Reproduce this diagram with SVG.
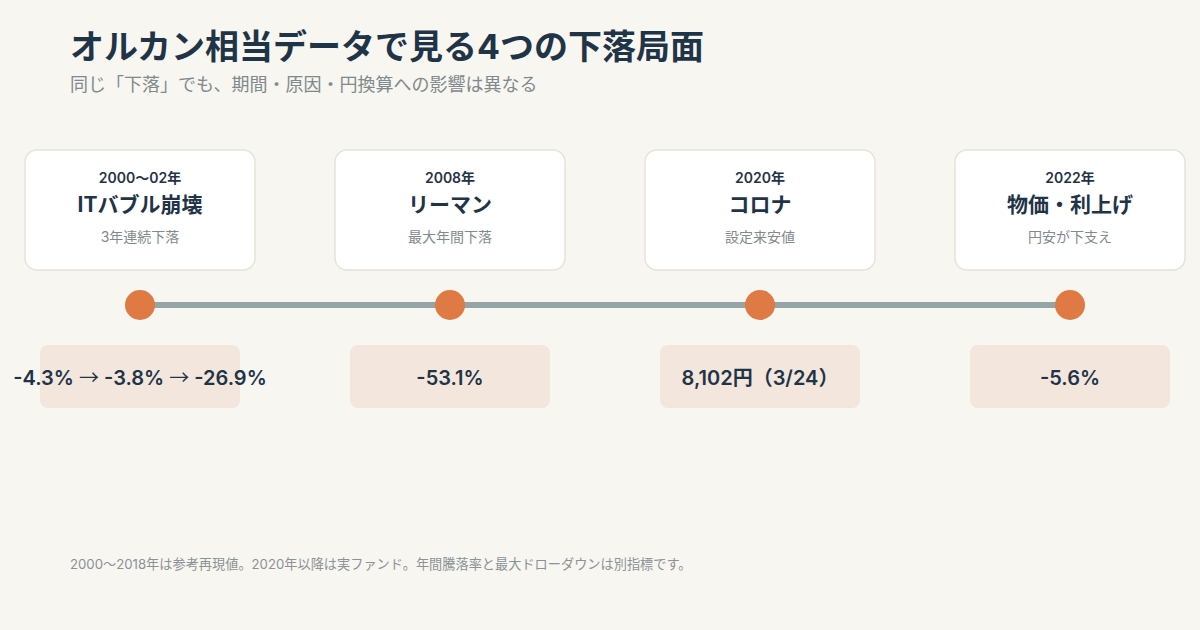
<svg xmlns="http://www.w3.org/2000/svg" width="1200" height="630" viewBox="0 0 1200 630">
<style>
text{font-family:Inter,"Noto Sans CJK JP","Noto Sans",sans-serif}
.title{font-size:34px;font-weight:700;fill:#1f3447}
.subtitle{font-size:18px;fill:#7f8a8c}
.card{fill:#ffffff;stroke:#e6e3d8;stroke-width:1.5}
.yr{font-size:14px;font-weight:600;fill:#1f3447;text-anchor:middle}
.nm{font-size:21px;font-weight:700;fill:#1f3447;text-anchor:middle}
.ds{font-size:14px;fill:#7f8a8c;text-anchor:middle}
.dot{fill:#df7a45}
.vbox{fill:#f2e6dd}
.val{font-size:20px;font-weight:600;fill:#1f3447;text-anchor:middle}
.arr{font-family:"Noto Sans CJK JP",sans-serif;font-weight:400}
.foot{font-size:13.2px;fill:#8a9294}
</style>
<rect width="1200" height="630" fill="#f7f6f1"/>
<text class="title" x="70" y="59">オルカン相当データで見る4つの下落局面</text>
<text class="subtitle" x="70" y="91">同じ「下落」でも、期間・原因・円換算への影響は異なる</text>
<g id="connectors">
<line x1="140" y1="305" x2="1070" y2="305" stroke="#95a5a6" stroke-width="6"/>
</g>
<g id="node-2000">
<rect class="card" x="25" y="150" width="230" height="120" rx="12"/>
<text class="yr" x="140" y="183">2000〜02年</text>
<text class="nm" x="140" y="212">ITバブル崩壊</text>
<text class="ds" x="140" y="242">3年連続下落</text>
<circle class="dot" cx="140" cy="305" r="15"/>
<rect class="vbox" x="40" y="345" width="200" height="63" rx="8"/>
<text class="val" x="140" y="385">-4.3% <tspan class="arr">→</tspan> -3.8% <tspan class="arr">→</tspan> -26.9%</text>
</g>
<g id="node-2008">
<rect class="card" x="335" y="150" width="230" height="120" rx="12"/>
<text class="yr" x="450" y="183">2008年</text>
<text class="nm" x="450" y="212">リーマン</text>
<text class="ds" x="450" y="242">最大年間下落</text>
<circle class="dot" cx="450" cy="305" r="15"/>
<rect class="vbox" x="350" y="345" width="200" height="63" rx="8"/>
<text class="val" x="450" y="385">-53.1%</text>
</g>
<g id="node-2020">
<rect class="card" x="645" y="150" width="230" height="120" rx="12"/>
<text class="yr" x="760" y="183">2020年</text>
<text class="nm" x="760" y="212">コロナ</text>
<text class="ds" x="760" y="242">設定来安値</text>
<circle class="dot" cx="760" cy="305" r="15"/>
<rect class="vbox" x="660" y="345" width="200" height="63" rx="8"/>
<text class="val" x="760" y="385">8,102円（3/24）</text>
</g>
<g id="node-2022">
<rect class="card" x="955" y="150" width="230" height="120" rx="12"/>
<text class="yr" x="1070" y="183">2022年</text>
<text class="nm" x="1070" y="212">物価・利上げ</text>
<text class="ds" x="1070" y="242">円安が下支え</text>
<circle class="dot" cx="1070" cy="305" r="15"/>
<rect class="vbox" x="970" y="345" width="200" height="63" rx="8"/>
<text class="val" x="1070" y="385">-5.6%</text>
</g>
<text class="foot" x="70" y="569">2000〜2018年は参考再現値。2020年以降は実ファンド。年間騰落率と最大ドローダウンは別指標です。</text>
</svg>
